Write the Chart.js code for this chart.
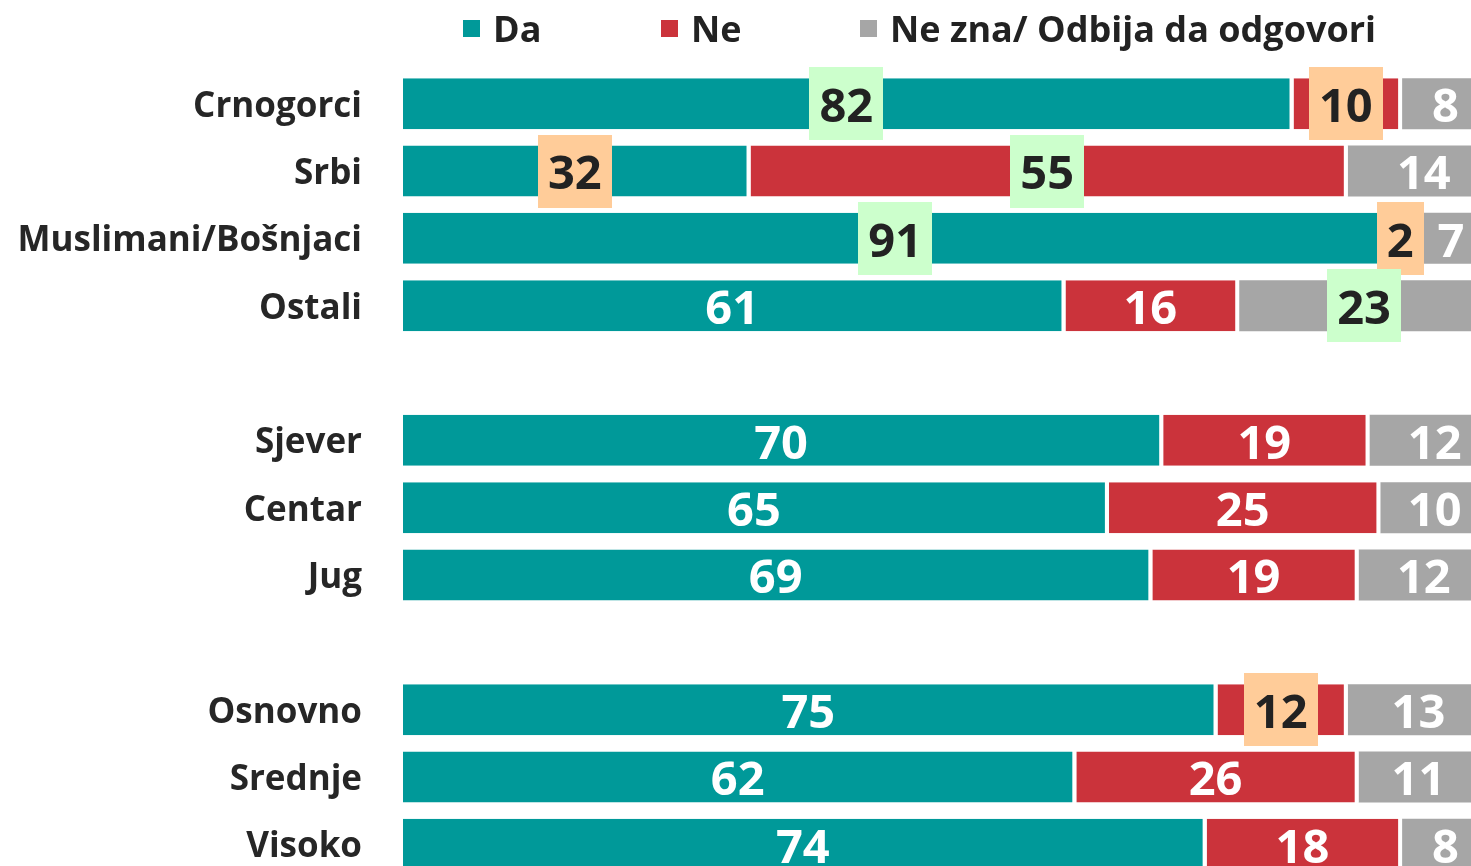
<!DOCTYPE html>
<html>
<head>
<meta charset="utf-8">
<script src="https://cdn.jsdelivr.net/npm/chart.js@4.4.1/dist/chart.umd.min.js"></script>
<style>
html,body{margin:0;padding:0;background:#fff;overflow:hidden;width:1471px;height:866px}
#wrap{position:absolute;left:0;top:0;width:1490px;height:880px}
</style>
</head>
<body>
<div id="wrap"><canvas id="c" width="1490" height="880"></canvas></div>
<script>
// ---- data ----
const categories = ['Crnogorci','Srbi','Muslimani/Bošnjaci','Ostali','','Sjever','Centar','Jug','','Osnovno','Srednje','Visoko'];
const seriesNames = ['Da','Ne','Ne zna/ Odbija da odgovori'];
const daValues    = [82, 32, 91, 61, null, 70, 65, 69, null, 75, 62, 74];
const neValues    = [10, 55,  2, 16, null, 19, 25, 19, null, 12, 26, 18];
const neznaValues = [ 8, 14,  7, 23, null, 12, 10, 12, null, 13, 11,  8];
// highlighted value labels: 'g' = green box, 'o' = orange box
const daHighlight    = ['g','o','g',null,null,null,null,null,null,null,null,null];
const neHighlight    = ['o','g','o',null,null,null,null,null,null,'o',null,null];
const neznaHighlight = [null,null,null,'g',null,null,null,null,null,null,null,null];

// ---- styles ----
const COLORS = ['#009999', '#CB333B', '#A6A6A6'];
const HL = { g: '#CCFFCC', o: '#FFCC99' };
const FONT = '"Open Sans", "DejaVu Sans", sans-serif';

const valueLabels = {
  id: 'valueLabels',
  afterDatasetsDraw(chart) {
    const ctx = chart.ctx;
    const fs = 47;
    ctx.save();
    ctx.font = `700 ${fs}px ${FONT}`;
    ctx.textAlign = 'center';
    ctx.textBaseline = 'alphabetic';
    chart.data.datasets.forEach((ds, di) => {
      const meta = chart.getDatasetMeta(di);
      if (meta.hidden) return;
      meta.data.forEach((el, i) => {
        const v = ds.data[i];
        if (v == null) return;
        const p = el.getProps(['x', 'y', 'base'], true);
        const bw = ds.borderWidth && ds.borderWidth.right ? ds.borderWidth.right : 0;
        const cx = (p.base + p.x - bw) / 2;
        const txt = String(v);
        const w = ctx.measureText(txt).width;
        const hl = ds.highlight[i];
        if (hl) {
          ctx.fillStyle = HL[hl];
          ctx.fillRect(Math.round(cx - w / 2 - 10), Math.round(p.y - 36.5), Math.round(w + 20), 73);
          ctx.fillStyle = '#222222';
        } else {
          ctx.fillStyle = '#FFFFFF';
        }
        ctx.fillText(txt, cx, p.y + fs * 0.714 / 2 + 1.5);
      });
    });
    ctx.restore();
  }
};

const customLegend = {
  id: 'customLegend',
  afterDraw(chart, args, opts) {
    const ctx = chart.ctx;
    ctx.save();
    ctx.font = `700 36px ${FONT}`;
    ctx.textAlign = 'left';
    ctx.textBaseline = 'alphabetic';
    chart.data.datasets.forEach((ds, i) => {
      const x = opts.xs[i];
      ctx.fillStyle = ds.backgroundColor;
      ctx.fillRect(x, 20, 17, 17);
      ctx.fillStyle = '#222222';
      ctx.fillText(ds.label, x + 30, 42);
    });
    ctx.restore();
  }
};

const mk = (i, data, hl, border) => ({
  label: seriesNames[i],
  data: data,
  highlight: hl,
  backgroundColor: COLORS[i],
  borderColor: '#FFFFFF',
  borderWidth: border ? { top: 0, right: 4, bottom: 0, left: 0 } : 0,
  borderSkipped: false,
  barPercentage: 0.757,
  categoryPercentage: 1.0
});

new Chart(document.getElementById('c'), {
  type: 'bar',
  data: {
    labels: categories,
    datasets: [
      mk(0, daValues, daHighlight, true),
      mk(1, neValues, neHighlight, true),
      mk(2, neznaValues, neznaHighlight, false)
    ]
  },
  options: {
    indexAxis: 'y',
    responsive: false,
    animation: false,
    devicePixelRatio: 1,
    layout: { padding: { top: 70, bottom: 2, left: 0, right: 1 } },
    plugins: {
      legend: { display: false },
      tooltip: { enabled: false },
      customLegend: { xs: [463, 661, 860] }
    },
    scales: {
      x: { stacked: true, min: 0, max: 100, display: false },
      y: {
        stacked: true,
        grid: { display: false, drawTicks: false },
        border: { display: false },
        afterFit(scale) {
          scale.width = 403;
          scale.paddingTop = 0;
          scale.paddingBottom = 0;
        },
        ticks: {
          autoSkip: false,
          padding: 41,
          labelOffset: 3,
          color: '#262626',
          font: { family: FONT, size: 35, weight: '700' }
        }
      }
    }
  },
  plugins: [valueLabels, customLegend]
});
</script>
</body>
</html>
